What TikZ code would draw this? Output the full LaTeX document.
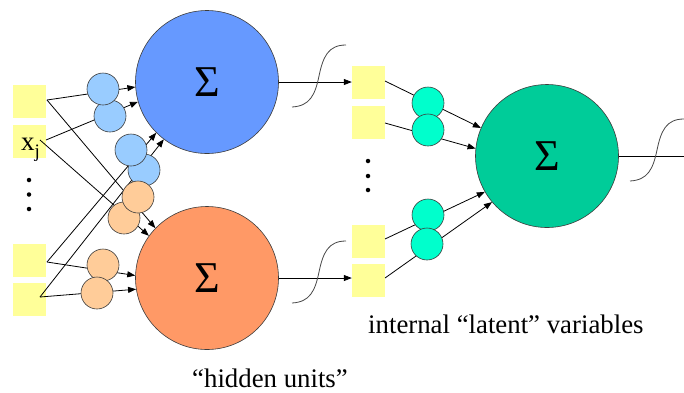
\documentclass[tikz,border=0pt]{standalone}
\usepackage{fontspec}
\setmainfont{Liberation Serif}
\usetikzlibrary{arrows.meta}
\definecolor{bigblue}{RGB}{102,153,255}
\definecolor{bigorange}{RGB}{255,153,102}
\definecolor{biggreen}{RGB}{0,204,153}
\definecolor{smblue}{RGB}{153,204,255}
\definecolor{smorange}{RGB}{255,204,153}
\definecolor{smgreen}{RGB}{0,255,204}
\definecolor{sqyellow}{RGB}{255,255,153}
\definecolor{outline}{RGB}{60,60,60}
\definecolor{sigcol}{RGB}{70,70,70}
\begin{document}
\begin{tikzpicture}[x=1pt,y=-1pt,
 insq/.style={fill=sqyellow, minimum width=33pt, minimum height=33pt, inner sep=0pt},
 bigc/.style={circle, draw=outline, line width=0.6pt, minimum size=143pt, inner sep=0pt, font=\fontsize{44}{44}\selectfont},
 smallc/.style={circle, draw=outline, line width=0.6pt, minimum size=32pt, inner sep=0pt},
 conn/.style={line width=0.8pt, -{Triangle[length=8pt,width=6pt]}},
 plainline/.style={line width=0.8pt},
 sig/.style={line width=0.8pt, draw=sigcol},
 dotn/.style={circle, fill=black, minimum size=4.5pt, inner sep=0pt},
 lbl/.style={font=\fontsize{26.8}{30}\selectfont, anchor=base west, inner sep=0pt}]
\useasboundingbox (0,0) rectangle (684,392);

% big summing units
\node[bigc, fill=bigblue] (hb) at (207,82) {Σ};
\node[bigc, fill=bigorange] (ho) at (207,278) {Σ};
\node[bigc, fill=biggreen] (out) at (547,156) {Σ};

% input squares
\node[insq] (s1) at (29,101) {};
\node[insq] (s2) at (29,141.5) {};
\node[insq] (s3) at (29,260) {};
\node[insq] (s4) at (29,299.5) {};
\node[anchor=base west, inner sep=0pt, font=\fontsize{27}{27}\selectfont] (xj) at (21,150) {x\raisebox{-7pt}{\fontsize{19}{19}\selectfont j}};
\node[dotn] (d1) at (29,180) {};
\node[dotn] (d2) at (29,194.5) {};
\node[dotn] (d3) at (29,209) {};

% middle squares
\node[insq] (m1) at (368.5,82.5) {};
\node[insq] (m2) at (368.5,122.5) {};
\node[insq] (m3) at (368.5,241) {};
\node[insq] (m4) at (368.5,280.5) {};
\node[dotn] (d4) at (368,161) {};
\node[dotn] (d5) at (368,176) {};
\node[dotn] (d6) at (368,190) {};

% line start points
\coordinate (p1) at (47,100);
\coordinate (p2a) at (46,140);
\coordinate (p2b) at (40,140);
\coordinate (p3) at (47,262);
\coordinate (p4) at (40,297);
\coordinate (q1) at (385,81);
\coordinate (q2) at (385,123);
\coordinate (q3) at (385,239);
\coordinate (q4) at (385,278);
\coordinate (oend) at (684,156);

% connectors into hidden units
\draw[conn] (p1) -- (hb.184);
\draw[conn] (p2a) -- (hb.196);
\draw[conn] (p3) -- (hb.225);
\draw[conn] (p4) -- (hb.233);
\draw[conn] (p1) -- (ho.136);
\draw[conn] (p2b) -- (ho.144);
\draw[conn] (p3) -- (ho.178);
\draw[conn] (p4) -- (ho.189);

% outputs of hidden units
\draw[conn] (hb.east) -- (hb.east -| m1.west);
\draw[conn] (ho.east) -- (ho.east -| m4.west);

% connectors into output unit
\draw[conn] (q1) -- (out.157);
\draw[conn] (q2) -- (out.174);
\draw[conn] (q3) -- (out.210);
\draw[conn] (q4) -- (out.220);
\draw[plainline] (out.east) -- (oend);

% weights (small circles)
\node[smallc, fill=smblue] (wb) at (110,116) {};
\node[smallc, fill=smblue] (wa) at (103,89) {};
\node[smallc, fill=smblue] (wd) at (144,170) {};
\node[smallc, fill=smblue] (wc) at (131,150) {};
\node[smallc, fill=smorange] (wf) at (124,218) {};
\node[smallc, fill=smorange] (we) at (138,197) {};
\node[smallc, fill=smorange] (wg) at (103,265) {};
\node[smallc, fill=smorange] (wh) at (97,293) {};
\node[smallc, fill=smgreen] (n1) at (428,103) {};
\node[smallc, fill=smgreen] (n2) at (428,130) {};
\node[smallc, fill=smgreen] (n3) at (428,215) {};
\node[smallc, fill=smgreen] (n4) at (427,244) {};

% sigmoid curves
\foreach \sx/\sy in {292/107, 292/303, 630/181}{
  \draw[sig, shift={(\sx,\sy)}] (0,0) .. controls (18,-1) and (23,-12) .. (27,-31) .. controls (31,-50) and (36,-62) .. (54,-62);
}

% labels
\node[lbl] (lat) at (368,333) {internal “latent” variables};
\node[lbl] (hid) at (192,387) {“hidden units”};
\end{tikzpicture}
\end{document}
